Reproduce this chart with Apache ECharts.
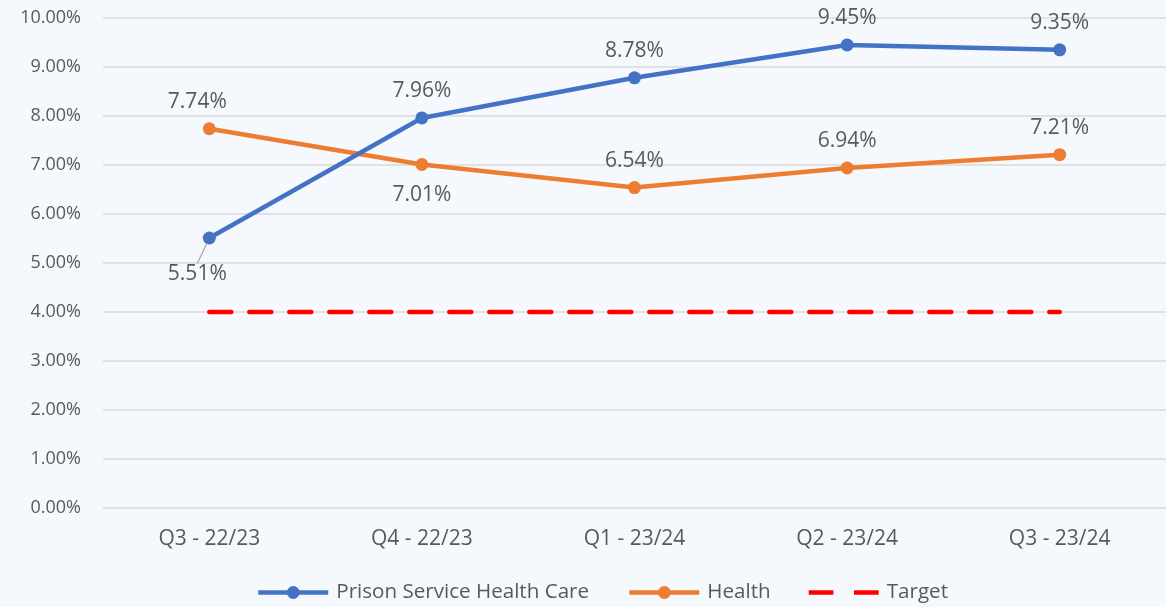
<!DOCTYPE html>
<html>
<head>
<meta charset="utf-8">
<script src="https://cdn.jsdelivr.net/npm/echarts@6/dist/echarts.min.js"></script>
<style>
  html, body { margin: 0; padding: 0; background: #f5f9fd; }
  #chart { width: 1166px; height: 607px; }
</style>
</head>
<body>
<div id="chart"></div>
<script>
const quarters = ["Q3 - 22/23", "Q4 - 22/23", "Q1 - 23/24", "Q2 - 23/24", "Q3 - 23/24"];
const prisonValues = [5.51, 7.96, 8.78, 9.45, 9.35];
const healthValues = [7.74, 7.01, 6.54, 6.94, 7.21];
const targetValues = [4, 4, 4, 4, 4];
// which points get their label under the marker
const prisonBelow = [true, false, false, false, false];
const healthBelow = [false, true, false, false, false];

const textColor = "#595959";
const fontName = "Open Sans";

const withLabels = (values, below) =>
  values.map((v, i) => {
    const item = {
      value: v,
      label: below[i] ? { position: "bottom", distance: i === 0 ? 19 : 14 } : { position: "top", distance: 10 }
    };
    if (i === 0 && below[i]) {
      item.labelLine = { show: true, lineStyle: { color: "#a6a6a6", width: 1.2 } };
    }
    return item;
  });

// Excel nudges the first category's labels a bit to the left
const nudgeFirst = p => (p.dataIndex === 0 ? { dx: -12 } : {});

const myChart = echarts.init(document.getElementById("chart"));

const option = {
  backgroundColor: "#f5f9fd",
  textStyle: { fontFamily: fontName },
  grid: { left: 103, right: 0, top: 18, bottom: 99 },
  legend: {
    top: 577,
    left: 251,
    itemWidth: 70,
    itemHeight: 16,
    itemGap: 38,
    textStyle: { color: textColor, fontSize: 20.6, fontFamily: fontName, padding: [0, 0, 0, 3] },
    data: [
      { name: "Prison Service Health Care", lineStyle: { width: 4.5 } },
      { name: "Health", lineStyle: { width: 4.5 } },
      { name: "Target", icon: "path://M0,0h24v4.5h-24zM44,0h24v4.5h-24z" }
    ]
  },
  xAxis: {
    type: "category",
    data: quarters,
    boundaryGap: true,
    axisLine: { show: false },
    axisTick: { show: false },
    axisLabel: { color: textColor, fontSize: 21, margin: 21 }
  },
  yAxis: {
    type: "value",
    min: 0,
    max: 10,
    interval: 1,
    axisLabel: {
      color: textColor,
      fontSize: 18,
      margin: 22,
      formatter: v => v.toFixed(2) + "%"
    },
    splitLine: { lineStyle: { color: "#d9d9d9", width: 1.5 } }
  },
  series: [
    {
      name: "Prison Service Health Care",
      type: "line",
      data: withLabels(prisonValues, prisonBelow),
      symbol: "circle",
      symbolSize: 13,
      itemStyle: { color: "#4472c4" },
      lineStyle: { color: "#4472c4", width: 4.5 },
      label: {
        show: true,
        color: textColor,
        fontSize: 21,
        formatter: p => p.value.toFixed(2) + "%"
      },
      labelLayout: nudgeFirst,
      z: 3
    },
    {
      name: "Health",
      type: "line",
      data: withLabels(healthValues, healthBelow),
      symbol: "circle",
      symbolSize: 13,
      itemStyle: { color: "#ed7d31" },
      lineStyle: { color: "#ed7d31", width: 4.5 },
      label: {
        show: true,
        color: textColor,
        fontSize: 21,
        formatter: p => p.value.toFixed(2) + "%"
      },
      labelLayout: nudgeFirst,
      z: 2
    },
    {
      name: "Target",
      type: "line",
      data: targetValues,
      symbol: "none",
      itemStyle: { color: "#ff0000" },
      lineStyle: { color: "#ff0000", width: 4.5, type: [22, 18], cap: "round" },
      z: 1
    }
  ]
};

myChart.setOption(option);
</script>
</body>
</html>
